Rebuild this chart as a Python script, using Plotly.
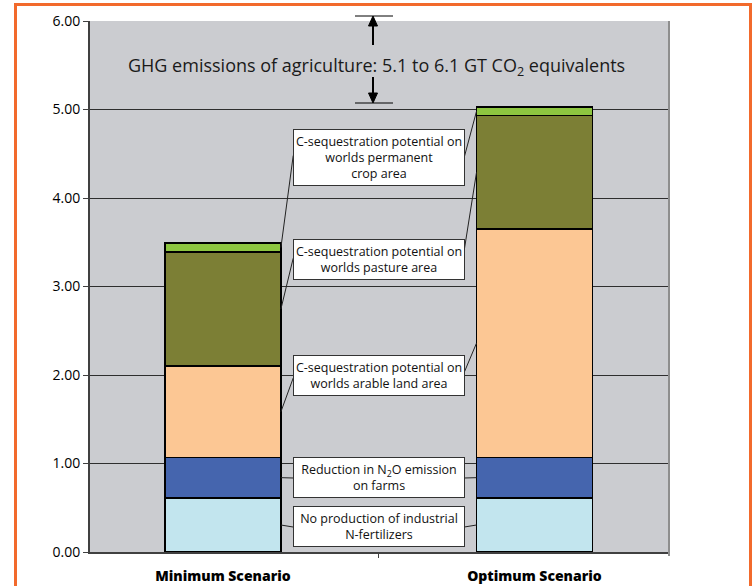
import plotly.graph_objects as go

# ---- data ----
categories = ["Minimum Scenario", "Optimum Scenario"]
no_fertilizer = [0.61, 0.61]
n2o_reduction = [0.46, 0.46]
arable_seq = [1.03, 2.58]
pasture_seq = [1.29, 1.28]
perm_crop_seq = [0.10, 0.10]

series = [
    ("No production of industrial<br>N-fertilizers", no_fertilizer, "#C2E5EE"),
    ("Reduction in N<sub>2</sub>O emission<br>on farms", n2o_reduction, "#4565AE"),
    ("C-sequestration potential on<br>worlds arable land area", arable_seq, "#FCC794"),
    ("C-sequestration potential on<br>worlds pasture area", pasture_seq, "#7C7F35"),
    ("C-sequestration potential on<br>worlds permanent<br>crop area", perm_crop_seq, "#8DC540"),
]
label_y = [0.288, 0.842, 1.994, 3.305, 4.457]
line_left_y = [0.282, 0.836, 1.966, 3.32, 4.48]
line_right_y = [0.282, 0.836, 2.03, 3.41, 4.46]

title_text = "GHG emissions of agriculture: 5.1 to 6.1 GT CO<sub>2</sub> equivalents"

BAR_W = 0.372
FONT = "Open Sans"

# plot-area geometry (pixels) used for decorations outside the data area
L, R, T, B = 90, 669, 21, 552


def px(xp):
    return (xp - L) / (R - L)


def py(yp):
    return (B - yp) / (B - T)


fig = go.Figure()
for name, vals, col in series:
    fig.add_trace(go.Bar(
        x=categories, y=vals, name=name, width=BAR_W,
        marker=dict(color=col, line=dict(color="#000000", width=1.5)),
        hoverinfo="skip"))

shapes = []
annotations = []
box_l, box_r = 0.2255, 0.7745
cum = [0.0, 0.0]
for i, (name, vals, col) in enumerate(series):
    mids = [cum[j] + vals[j] / 2 for j in range(2)]
    cum = [cum[j] + vals[j] for j in range(2)]
    shapes.append(dict(type="line", xref="x", yref="y",
                       x0=box_l, y0=line_left_y[i], x1=BAR_W / 2, y1=mids[0],
                       line=dict(color="#222222", width=1)))
    shapes.append(dict(type="line", xref="x", yref="y",
                       x0=box_r, y0=line_right_y[i], x1=1 - BAR_W / 2, y1=mids[1],
                       line=dict(color="#222222", width=1)))
    nlines = name.count("<br>") + 1
    annotations.append(dict(
        x=0.5, y=label_y[i], xref="x", yref="y", text=name, showarrow=False,
        align="center", width=166, height=16 * nlines + 3, borderpad=2,
        bgcolor="#FFFFFF", bordercolor="#333333", borderwidth=1,
        font=dict(family=FONT, size=12.5, color="#111111")))

annotations.append(dict(x=px(376), y=py(66), xref="paper", yref="paper",
                        xanchor="center", yanchor="middle", text=title_text,
                        showarrow=False, font=dict(family=FONT, size=18, color="#1a1a1a")))

# range arrows (5.1 to 6.1)
ax_ = 373
for y_tip, y_base, y_tail in ((16, 26, 45), (103, 93, 77)):
    shapes.append(dict(type="line", xref="paper", yref="paper",
                       x0=px(ax_), x1=px(ax_), y0=py(y_tail), y1=py(y_base),
                       line=dict(color="#000000", width=2)))
    shapes.append(dict(type="path", xref="paper", yref="paper",
                       path=f"M {px(ax_)},{py(y_tip)} L {px(ax_-4.5)},{py(y_base)} L {px(ax_+4.5)},{py(y_base)} Z",
                       fillcolor="#000000", line=dict(color="#000000", width=1)))
    shapes.append(dict(type="line", xref="paper", yref="paper",
                       x0=px(355), x1=px(393), y0=py(y_tip), y1=py(y_tip),
                       line=dict(color="#000000", width=1)))

# right plot edge + tick
shapes.append(dict(type="line", xref="paper", yref="paper", x0=1, x1=1, y0=py(556), y1=1,
                   line=dict(color="#8E8E8E", width=2)))
# orange frame
shapes.append(dict(type="rect", xref="paper", yref="paper",
                   x0=px(15.5), x1=px(750.5), y0=py(600), y1=py(4.5),
                   line=dict(color="#F26A2C", width=3), fillcolor="rgba(0,0,0,0)", layer="below"))

fig.update_layout(
    barmode="stack",
    width=756, height=586,
    margin=dict(l=L, r=756 - R, t=T, b=586 - B, autoexpand=False),
    paper_bgcolor="#FFFFFF",
    plot_bgcolor="#CBCCD0",
    showlegend=False,
    shapes=shapes,
    annotations=annotations,
    xaxis=dict(type="category", range=[-0.427, 1.432], tickson="boundaries",
               ticks="outside", ticklen=4, tickcolor="#404040", tickwidth=1,
               showline=True, linecolor="#404040", linewidth=2, showgrid=False,
               automargin=False, ticklabelstandoff=10,
               tickfont=dict(family=FONT, size=14, color="#000000", weight=800)),
    yaxis=dict(range=[0, 6], dtick=1, tickformat=".2f", ticks="outside", ticklen=5,
               tickcolor="#404040", showline=True, linecolor="#404040", linewidth=2,
               gridcolor="#2E2E2E", gridwidth=1, zeroline=False, automargin=False,
               tickfont=dict(family=FONT, size=14, color="#000000")),
)

fig.write_html("out.html", config={"displayModeBar": False},
               post_script="document.body.style.margin='0';document.body.style.overflow='hidden';")
